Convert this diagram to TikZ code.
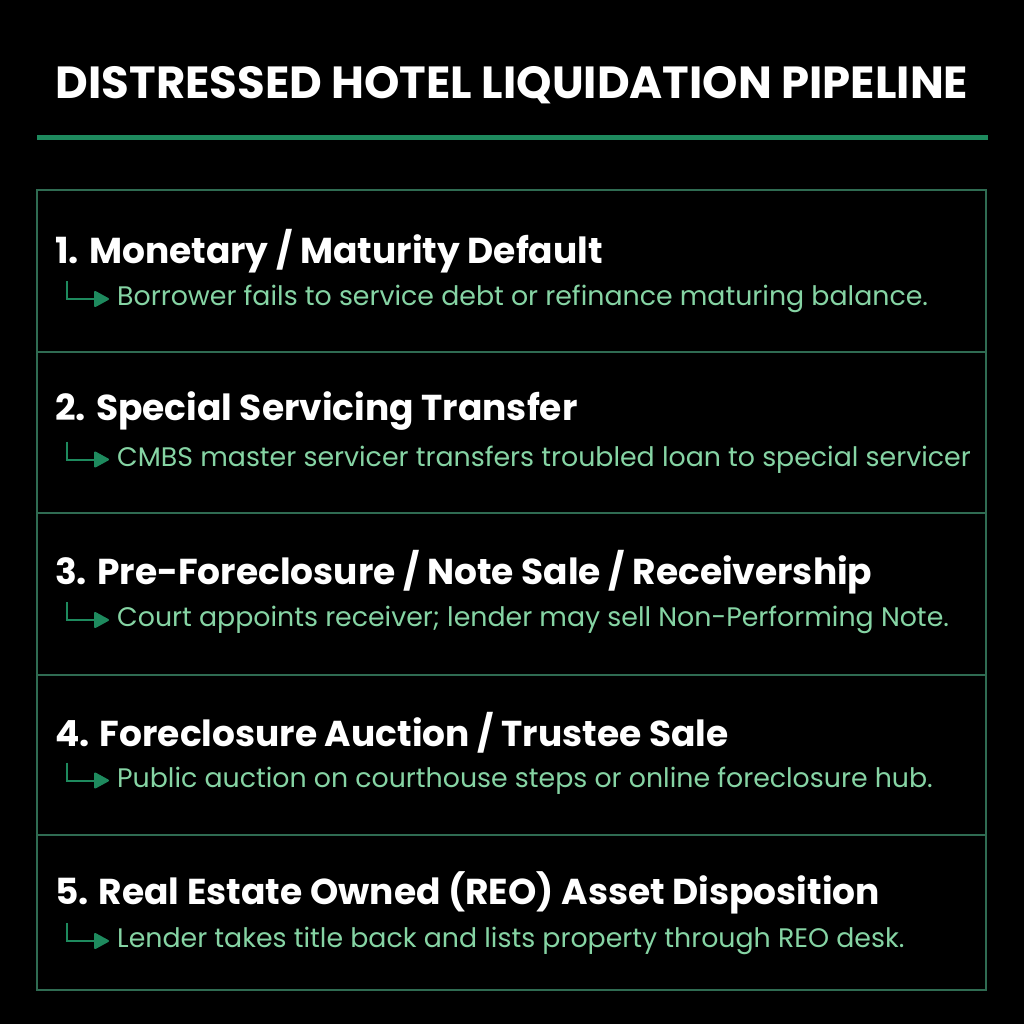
\documentclass[tikz,border=0pt]{standalone}
\usepackage{fontspec}
\setmainfont{Poppins}
\usetikzlibrary{arrows.meta}
\definecolor{rulegreen}{HTML}{1E8A5E}
\definecolor{boxgreen}{HTML}{2F6B52}
\definecolor{descgreen}{HTML}{86D4A4}

\begin{document}
\begin{tikzpicture}[x=1pt,y=-1pt]
\fill[black] (0,0) rectangle (1024,1024);
\node[white,font=\fontsize{45}{50}\selectfont\bfseries] (title) at (512,85) {DISTRESSED HOTEL LIQUIDATION PIPELINE};
\draw[rulegreen,line width=5pt] (37,138) -- (988,138);
\draw[boxgreen,line width=1.5pt] (37,190) rectangle (986,990);
\draw[boxgreen,line width=1.5pt] (37,352) -- (986,352);
\draw[boxgreen,line width=1.5pt] (37,513) -- (986,513);
\draw[boxgreen,line width=1.5pt] (37,675) -- (986,675);
\draw[boxgreen,line width=1.5pt] (37,835) -- (986,835);
\foreach \i/\head/\desc in {
  0/{1. Monetary / Maturity Default}/{Borrower fails to service debt or refinance maturing balance.},
  1/{2. Special Servicing Transfer}/{CMBS master servicer transfers troubled loan to special servicer},
  2/{3. Pre-Foreclosure / Note Sale / Receivership}/{Court appoints receiver; lender may sell Non-Performing Note.},
  3/{4. Foreclosure Auction / Trustee Sale}/{Public auction on courthouse steps or online foreclosure hub.},
  4/{5. Real Estate Owned (REO) Asset Disposition}/{Lender takes title back and lists property through REO desk.}}
{
  \node[white,anchor=west,inner sep=0pt,font=\fontsize{36}{40}\selectfont\bfseries] (h\i) at (55,251+\i*160.5) {\head};
  \node[descgreen,anchor=west,inner sep=0pt,font=\fontsize{26.8}{30}\selectfont] (d\i) at (117,299+\i*160.5) {\desc};
  \coordinate (a\i) at (67,281+\i*160.5);
  \draw[rulegreen,line width=2pt,-{Triangle[length=16pt,width=17pt,round]}] (a\i) |- ([xshift=-8pt]d\i.west);
}
\end{tikzpicture}
\end{document}
